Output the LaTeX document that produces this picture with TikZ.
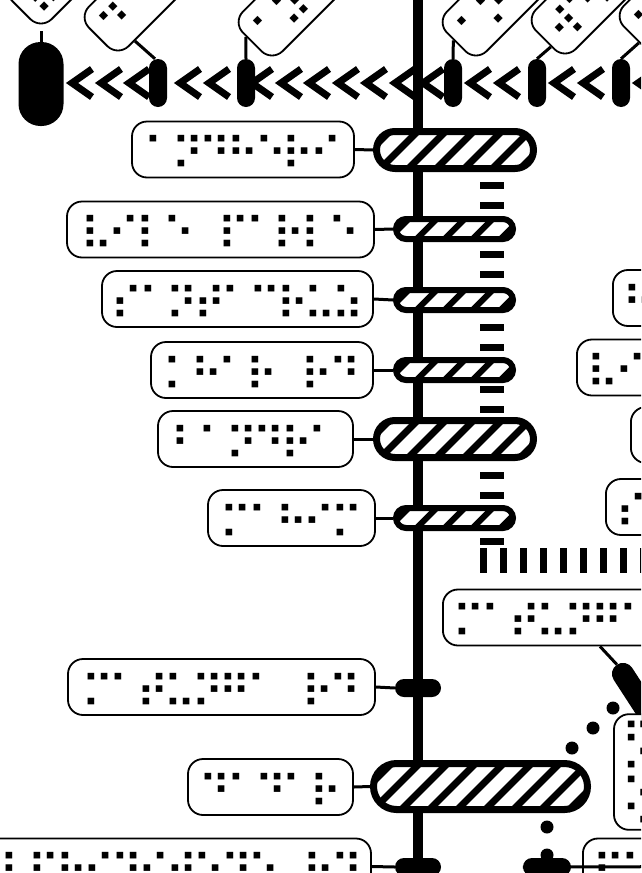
\documentclass[tikz,border=0pt]{standalone}
\usepackage{fontspec}
\newfontfamily\brlfont[LetterSpace=-12]{DejaVu Sans}
\usetikzlibrary{calc}

\tikzset{
  lbl/.style={draw, line width=1.8pt, rounded corners=15pt, fill=white,
    minimum height=56pt, inner xsep=0pt, inner ysep=0pt,
    font=\brlfont\fontsize{45}{45}\selectfont, text height=42pt, text depth=0pt},
  rlbl/.style={lbl, anchor=west, inner xsep=10pt},
  tlbl/.style={lbl, rotate=45, anchor=south west, inner xsep=9pt},
  conn/.style={line width=3pt},
  bstn/.style={fill=black, inner sep=0pt},
  sstn/.style={bstn, minimum width=18pt, minimum height=48pt, rounded corners=9pt},
  dstn/.style={bstn, minimum width=46pt, minimum height=18pt, rounded corners=9pt},
  hatch/.style={path picture={
    \foreach \k in {-9,...,9}
      \draw[line width=#1] ([xshift=\k*28pt]path picture bounding box.center)
        ++(-50pt,-50pt) -- ++(100pt,100pt);}},
  hbig/.style={draw, line width=7pt, fill=white, inner sep=0pt,
    minimum width=157pt, minimum height=37pt, rounded corners=18.5pt, hatch=7pt},
  hsmall/.style={draw, line width=6pt, fill=white, inner sep=0pt,
    minimum width=117pt, minimum height=20pt, rounded corners=10pt, hatch=6pt},
  chev/.style={line width=7pt, miter limit=10},
}

\begin{document}
\begin{tikzpicture}[x=1pt, y=-1pt]
\useasboundingbox (0,0) rectangle (641,873);
\clip (0,0) rectangle (641,873);

% dashed branch
\foreach \y in {185,205,254,274,327,347,389,409,475,495,541}
  \fill (480,\y-3.5) rectangle (504,\y+3.5);
\foreach \x in {483,503,...,643}
  \fill (\x-3.5,548) rectangle (\x+3.5,573);

% dotted line
\foreach \p in {(613,708),(593,728),(572,748),(560,775),(551,801),(547,827),(547,855)}
  \fill \p circle (6.5pt);

% main line
\draw[line width=10pt] (418,0) -- (418,873);

% metro row
\foreach \x in {67,96,124,175,204,247,276,304,333,361,390,418,465,494,549,578,633}
  \draw[chev] (\x+25,69) -- (\x+5,83) -- (\x+25,97);

\node[bstn, minimum width=45pt, minimum height=84pt, rounded corners=22pt] (versova) at (41,84) {};
\node[sstn] (dnnagar) at (158,83) {};
\node[sstn] (azadnagar) at (246,83) {};
\node[sstn] (andherim) at (453,83) {};
\node[sstn] (weh) at (537,83) {};
\node[sstn] (chakala) at (621,83) {};

\node[tlbl] (lversova) at (41,31) {⠧⠑⠗⠎⠕⠧⠁};
\node[tlbl] (ldnnagar) at (118,58) {⠙⠀⠝⠀⠝⠁⠛⠁⠗};
\node[tlbl] (lazadnagar) at (272,63) {⠁⠵⠁⠙⠀⠝⠁⠛⠁⠗};
\node[tlbl] (landherim) at (476,63) {⠁⠝⠙⠓⠑⠗⠊};
\node[tlbl] (lweh) at (565,61) {⠺⠑⠎⠞⠑⠗⠝};
\node[tlbl] (lchakala) at (653,57) {⠉⠓⠁⠅⠁⠇⠁};

\draw[conn] (lversova.south west) -- (versova.north);
\draw[conn] ($(ldnnagar.south west)!24pt!(ldnnagar.south east)$) -- ([xshift=-3pt]dnnagar.north);
\draw[conn] ($(lazadnagar.south west)!37pt!(lazadnagar.north west)$) -- (azadnagar.north);
\draw[conn] ($(landherim.south west)!32pt!(landherim.north west)$) -- (andherim.north);
\draw[conn] ($(lweh.south west)!20pt!(lweh.north west)$) -- (weh.north);
\draw[conn] ($(lchakala.south west)!20pt!(lchakala.north west)$) -- (chakala.north);

% stations on main line
\node[hbig] (andheri) at (455,150) {};
\node[hsmall] (vileparle) at (454.5,229) {};
\node[hsmall] (santacruz) at (454.5,300) {};
\node[hsmall] (khar) at (454.5,370) {};
\node[hbig] (bandra) at (455,439) {};
\node[hsmall] (mahim) at (454.5,518) {};
\node[dstn] (matungard) at (418,688) {};
\node[hbig, minimum width=214pt, minimum height=46pt, rounded corners=23pt] (dadar) at (480.5,786.5) {};
\node[dstn] (elphinstone) at (418,867) {};
\node[dstn, minimum width=48pt] (parel) at (547,867) {};
\node[bstn, rotate=-57, minimum width=70pt, minimum height=22pt, rounded corners=11pt] (matunga) at (636,694) {};

% labels
\node[lbl, minimum width=222pt] (landheri) at (243,149.5) {⠁⠝⠙⠓⠑⠗⠊};
\node[lbl, minimum width=307pt] (lvileparle) at (220.5,229.5) {⠧⠊⠇⠑⠀⠏⠁⠗⠇⠑};
\node[lbl, minimum width=271pt] (lsantacruz) at (237.5,299) {⠎⠁⠝⠞⠁⠉⠗⠥⠵};
\node[lbl, minimum width=222pt] (lkhar) at (262,370) {⠅⠓⠁⠗⠀⠗⠙};
\node[lbl, minimum width=195pt] (lbandra) at (255.5,439) {⠃⠁⠝⠙⠗⠁};
\node[lbl, minimum width=167pt] (lmahim) at (291.5,518) {⠍⠁⠓⠊⠍};
\node[lbl, minimum width=307pt] (lmatungard) at (221.5,687) {⠍⠁⠞⠥⠝⠛⠁⠀⠗⠙};
\node[lbl, minimum width=165pt] (ldadar) at (270.5,787) {⠙⠁⠙⠁⠗};
\node[lbl, minimum width=406pt] (lelphinstone) at (168,866.5) {⠑⠇⠏⠓⠊⠝⠎⠞⠕⠝⠑⠀⠗⠙};
\node[rlbl] (lmatunga) at (442,617.5) {⠍⠁⠞⠥⠝⠛⠁};
\node[rlbl] (lparel) at (582,866.5) {⠏⠁⠗⠑⠇};
\node[rlbl] (lharbour) at (612,298) {⠓⠁⠗⠃⠕⠥⠗};
\node[rlbl] (lvileparler) at (576,367.5) {⠧⠊⠇⠑⠀⠏⠁⠗⠇⠑};
\node[rlbl] (lkharr) at (630,435) {⠅⠓⠁⠗⠀⠗⠙};
\node[rlbl] (lsantacruzr) at (605,507) {⠎⠁⠝⠞⠁⠉⠗⠥⠵};
\node[lbl, rotate=90, minimum width=105pt] (lsion) at (642,772) {⠎⠊⠕⠝};

% connectors
\foreach \a/\b in {landheri/andheri, lvileparle/vileparle, lsantacruz/santacruz,
    lkhar/khar, lbandra/bandra, lmahim/mahim, lmatungard/matungard,
    ldadar/dadar, lelphinstone/elphinstone, lparel/parel}
  \draw[conn] (\a.east) -- (\b.west);
\draw[conn] ($(lmatunga.south west)!158pt!(lmatunga.south east)$) -- (matunga.west);

\end{tikzpicture}
\end{document}
